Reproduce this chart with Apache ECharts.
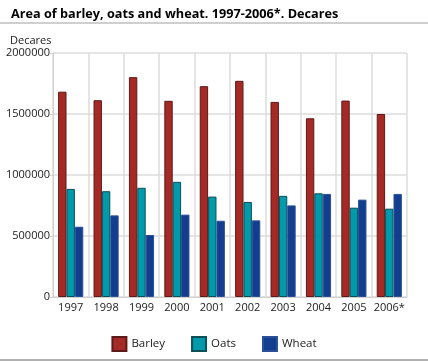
<!DOCTYPE html>
<html><head><meta charset="utf-8">
<script src="https://cdn.jsdelivr.net/npm/echarts@6/dist/echarts.min.js"></script>
<style>html,body{margin:0;padding:0;background:#fff}#c{width:428px;height:361px}</style>
</head><body><div id="c"></div>
<script>
const years = ['1997','1998','1999','2000','2001','2002','2003','2004','2005','2006*'];
const barley = [1683000,1613000,1802000,1608000,1728000,1772000,1599000,1465000,1610000,1500000];
const oats = [886000,867000,895000,944000,823000,779000,829000,850000,732000,724000];
const wheat = [576000,669000,508000,675000,625000,628000,751000,845000,798000,845000];
const yTicks = [0,500000,1000000,1500000,2000000];
const font = '"Open Sans", "DejaVu Sans", sans-serif';
const chart = echarts.init(document.getElementById('c'));
chart.setOption({
  animation:false,
  textStyle:{fontFamily:font},
  title:{text:'Area of barley, oats and wheat. 1997-2006*. Decares',left:6,top:3,
    textStyle:{fontFamily:font,fontSize:12.7,fontWeight:'bold',color:'#000'}},
  graphic:[
    {type:'rect',shape:{x:0,y:22,width:428,height:2},style:{fill:'#cfcfcf'}},
    {type:'rect',shape:{x:0,y:359,width:428,height:2},style:{fill:'#b0b0b0'}},
    {type:'text',left:10,top:35,style:{text:'Decares',font:'11px '+font,fill:'#222'}}
  ],
  legend:{left:'center',top:331,itemWidth:14,itemHeight:14,itemGap:26,icon:'rect',
    textStyle:{fontFamily:font,fontSize:11.5,color:'#222'},
    data:['Barley','Oats','Wheat']},
  grid:{left:53,right:21,top:53,bottom:64,containLabel:false},
  xAxis:{type:'category',data:years,
    axisLine:{lineStyle:{color:'#d0d0d0'}},axisTick:{show:false},
    axisLabel:{fontFamily:font,fontSize:11,color:'#222',margin:5,interval:0},
    splitLine:{show:true,interval:0,lineStyle:{color:'#dcdcdc',width:1.5}}},
  yAxis:{type:'value',min:0,max:2000000,interval:500000,
    axisLine:{show:true,lineStyle:{color:'#d0d0d0'}},
    axisTick:{show:true,length:3,lineStyle:{color:'#d0d0d0'}},
    axisLabel:{fontFamily:font,fontSize:11,color:'#222',margin:3,
      formatter:v=>yTicks.includes(v)?String(v):''},
    splitLine:{lineStyle:{color:'#dcdcdc',width:1.5}}},
  series:[
    {name:'Barley',type:'bar',data:barley,barGap:0,barCategoryGap:'29%',
      itemStyle:{color:'#a52a25',borderColor:'#5e1a16',borderWidth:1}},
    {name:'Oats',type:'bar',data:oats,barGap:0,barCategoryGap:'29%',
      itemStyle:{color:'#009aab',borderColor:'#0b4f58',borderWidth:1}},
    {name:'Wheat',type:'bar',data:wheat,barGap:0,barCategoryGap:'29%',
      itemStyle:{color:'#133d8d',borderColor:'#2b4f98',borderWidth:1}}
  ]
});
</script></body></html>
